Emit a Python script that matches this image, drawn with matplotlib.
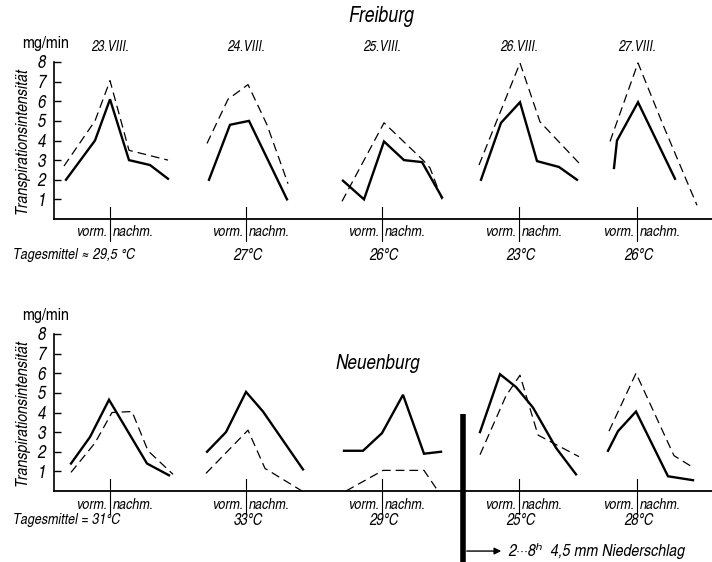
import matplotlib
matplotlib.use("Agg")
import matplotlib.pyplot as plt

# Schrift: schmale Grotesk (kondensiert) wie im Original
plt.rcParams['font.family'] = ['TeX Gyre Heros Cn', 'DejaVu Sans']

# Tage, Tagesmittel und Tagesmitten (Lage der vorm./nachm.-Marke)
days_fr = ["23.VIII.", "24.VIII.", "25.VIII.", "26.VIII.", "27.VIII."]
temps_fr = ["Tagesmittel ≈ 29,5 °C", "27°C", "26°C", "23°C", "26°C"]
temps_ne = ["Tagesmittel = 31°C", "33°C", "29°C", "25°C", "28°C"]
day_pos = [11.0, 24.6, 38.2, 51.9, 63.7]

# Freiburg: Uhrzeit (h) und Transpiration (mg/min)
fr_solid_t = [[7.6, 10.5, 12.0, 13.9, 16.0, 17.8],
              [8.3, 10.4, 12.3, 14.2, 16.1],
              [8.1, 10.2, 12.2, 14.2, 16.0, 18.0],
              [8.2, 10.2, 12.1, 13.8, 16.0, 17.8],
              [9.7, 10.0, 12.1, 15.8]]
fr_solid_v = [[2.0, 4.0, 6.1, 3.0, 2.75, 2.05],
              [2.0, 4.8, 5.0, 3.0, 1.0],
              [1.95, 1.0, 3.95, 3.0, 2.9, 1.1],
              [2.0, 4.9, 5.95, 2.95, 2.65, 2.0],
              [2.6, 4.0, 5.95, 2.05]]
fr_dash_t = [[7.4, 10.5, 12.0, 13.9, 17.8],
             [8.1, 10.2, 12.2, 14.1, 16.2],
             [8.0, 12.2, 16.1, 16.8, 18.0],
             [8.0, 12.1, 14.1, 18.0],
             [9.3, 12.1, 14.6, 18.0]]
fr_dash_v = [[2.7, 5.0, 7.05, 3.5, 3.0],
             [3.85, 6.1, 6.85, 4.8, 1.8],
             [0.9, 4.9, 3.0, 2.6, 1.0],
             [2.75, 7.95, 4.95, 2.85],
             [3.95, 7.95, 4.8, 0.7]]

# Neuenburg
ne_solid_t = [[8.1, 10.0, 11.9, 15.7, 17.9],
              [8.1, 10.0, 12.0, 13.7, 17.7],
              [8.2, 10.1, 12.0, 14.1, 16.2, 17.9],
              [8.1, 10.1, 11.7, 13.4, 15.7, 17.7],
              [9.1, 10.1, 11.9, 15.1, 17.6]]
ne_solid_v = [[1.4, 2.75, 4.65, 1.4, 0.8],
              [2.0, 3.0, 5.05, 4.05, 1.1],
              [2.05, 2.05, 2.95, 4.9, 1.9, 2.0],
              [3.0, 5.95, 5.3, 4.25, 2.2, 0.85],
              [2.05, 3.05, 4.05, 0.75, 0.55]]
ne_dash_t = [[8.1, 10.5, 12.2, 14.2, 15.8, 18.3],
             [8.0, 12.2, 13.9, 17.6],
             [8.4, 12.1, 16.2, 17.6],
             [8.1, 10.7, 12.1, 13.9, 18.0],
             [9.2, 11.9, 15.7, 17.6]]
ne_dash_v = [[0.95, 2.45, 4.0, 4.05, 2.05, 0.85],
             [0.9, 3.1, 1.15, 0.0],
             [0.0, 1.05, 1.05, 0.0],
             [1.85, 4.85, 5.9, 2.85, 1.75],
             [3.05, 6.0, 1.8, 1.2]]

fig = plt.figure(figsize=(7.12, 5.62), dpi=100)
ax1 = fig.add_axes([54/712, 1-219/562, 658/712, 157/562])
ax2 = fig.add_axes([54/712, 1-491/562, 658/712, 157/562])


def panel(ax, st, sv, dt, dv, temps, y_vn, y_temp):
    ax.set_xlim(5.4, 71.2)
    ax.set_ylim(0, 8)
    for s in ['top', 'right']:
        ax.spines[s].set_visible(False)
    ax.spines['left'].set_linewidth(1.2)
    ax.spines['bottom'].set_linewidth(1.3)
    ax.set_xticks([])
    ax.set_yticks(range(1, 9))
    ax.tick_params(axis='y', direction='in', length=5, width=1, pad=6,
                   labelsize=13)
    for lab in ax.get_yticklabels():
        lab.set_style('italic')
    for k, c in enumerate(day_pos):
        ax.plot([c + h - 12 for h in st[k]], sv[k], color='black', lw=1.7,
                solid_joinstyle='miter', clip_on=False)
        ax.plot([c + h - 12 for h in dt[k]], dv[k], color='black', lw=0.9,
                dashes=(7, 4), clip_on=False)
        ax.plot([c, c], [0.6, y_vn - 0.45], color='black', lw=0.8,
                clip_on=False)
        ax.text(c - 0.3, y_vn, "vorm.", ha='right', va='center',
                style='italic', fontsize=11)
        ax.text(c + 0.3, y_vn, "nachm.", ha='left', va='center',
                style='italic', fontsize=11)
        if k == 0:
            ax.text(1.3, y_temp, temps[k], ha='left', va='center',
                    style='italic', fontsize=11)
        else:
            ax.text(c + 0.2, y_temp, temps[k], ha='center', va='center',
                    style='italic', fontsize=11.5)
    ax.text(4.6, 8.95, "mg/min", ha='center', va='center', fontsize=12.5)
    ax.text(2.2, 4.0, "Transpirationsintensität", rotation=90, ha='center',
            va='center', style='italic', fontsize=12.5)


panel(ax1, fr_solid_t, fr_solid_v, fr_dash_t, fr_dash_v, temps_fr, -0.66, -1.84)
panel(ax2, ne_solid_t, ne_solid_v, ne_dash_t, ne_dash_v, temps_ne, -0.71, -1.48)

for k, c in enumerate(day_pos):
    ax1.text(c, 8.75, days_fr[k], ha='center', va='center', style='italic',
             fontsize=10.5)

ax1.text(38.1, 10.3, "Freiburg", ha='center', va='center', style='italic',
         fontsize=15.5)
ax2.text(37.8, 6.5, "Neuenburg", ha='center', va='center', style='italic',
         fontsize=15)

# Regen: dicker Balken mit Pfeil
ax2.plot([46.25, 46.25], [3.9, -3.7], color='black', lw=4, clip_on=False,
         solid_capstyle='butt')
ax2.annotate("", xy=(50.4, -3.06), xytext=(46.4, -3.06),
             arrowprops=dict(arrowstyle='-|>', color='black', lw=1,
                             mutation_scale=10),
             annotation_clip=False)
ax2.text(50.8, -3.06, "2···8ʰ  4,5 mm Niederschlag", ha='left', va='center',
         style='italic', fontsize=12.5)

fig.savefig("out.png", dpi=100)
